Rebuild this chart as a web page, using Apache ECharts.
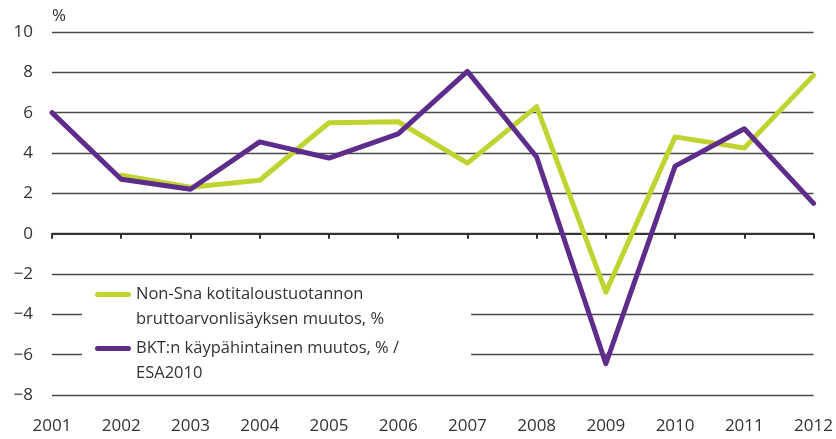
<!DOCTYPE html>
<html>
<head>
<meta charset="utf-8">
<script src="https://cdn.jsdelivr.net/npm/echarts@6/dist/echarts.min.js"></script>
<style>
  html, body { margin: 0; padding: 0; background: #fff; }
  #chart { width: 836px; height: 439px; }
</style>
</head>
<body>
<div id="chart"></div>
<script>
// vuodet
var years = ['2001', '2002', '2003', '2004', '2005', '2006', '2007', '2008', '2009', '2010', '2011', '2012'];
// Non-Sna kotitaloustuotannon bruttoarvonlisäyksen muutos, %
var nonSna = [null, 2.9, 2.3, 2.65, 5.5, 5.55, 3.5, 6.3, -2.9, 4.8, 4.25, 7.85];
// BKT:n käypähintainen muutos, %
var bkt = [6.0, 2.7, 2.2, 4.55, 3.75, 4.95, 8.05, 3.8, -6.45, 3.35, 5.2, 1.5];

var nameNonSna = 'Non-Sna kotitaloustuotannon\nbruttoarvonlisäyksen muutos, %';
var nameBkt = 'BKT:n käypähintainen muutos, % /\nESA2010';

var font = '"Open Sans", "Noto Sans", sans-serif';
var green = '#bfd431';
var purple = '#5e2d8b';

// legend icon: rounded bar near the top so it lines up with the first text row
var icon = 'path://M2.5,10 L33.5,10 A2.5,2.5 0 0 1 33.5,15 L2.5,15 A2.5,2.5 0 0 1 2.5,10 Z M0,0 L0,0 Z M36,50 L36,50 Z';

var chart = echarts.init(document.getElementById('chart'));
chart.setOption({
  animation: false,
  grid: { left: 52, right: 16, top: 32, bottom: 44 },
  legend: {
    orient: 'vertical',
    left: 82,
    top: 276,
    padding: [6, 72, 5, 13],
    itemGap: 4,
    itemWidth: 36,
    itemHeight: 50,
    symbolKeepAspect: false,
    backgroundColor: '#fff',
    icon: icon,
    textStyle: { fontFamily: font, fontSize: 16.5, lineHeight: 25, color: '#333' },
    data: [nameNonSna, nameBkt]
  },
  xAxis: [{
    // nollaviiva ja tikit
    type: 'category',
    data: years,
    boundaryGap: false,
    position: 'top',
    axisLine: { onZero: true, lineStyle: { color: '#333', width: 2 } },
    axisTick: { inside: true, length: 5, lineStyle: { color: '#333', width: 2 } },
    axisLabel: { show: false },
    splitLine: { show: false }
  }, {
    // vuosiotsikot alareunassa
    type: 'category',
    data: years,
    boundaryGap: false,
    position: 'bottom',
    axisLine: { show: false, onZero: false },
    axisTick: { show: false },
    axisLabel: { margin: 23, fontFamily: font, fontSize: 17, color: '#333' },
    splitLine: { show: false }
  }],
  yAxis: {
    type: 'value',
    min: -8,
    max: 10,
    interval: 2,
    name: '%',
    nameLocation: 'end',
    nameGap: 7,
    nameTextStyle: { align: 'left', fontFamily: font, fontSize: 17, color: '#333' },
    axisLine: { show: false },
    axisTick: { show: false },
    axisLabel: {
      margin: 19,
      fontFamily: font,
      fontSize: 17,
      color: '#333',
      formatter: function (v) { return v < 0 ? '\u2212' + Math.abs(v) : String(v); }
    },
    splitLine: { lineStyle: { color: '#4a4a4a', width: 1.3 } }
  },
  series: [{
    name: nameNonSna,
    type: 'line',
    data: nonSna,
    symbol: 'none',
    color: green,
    lineStyle: { width: 5, color: green, cap: 'round', join: 'round' }
  }, {
    name: nameBkt,
    type: 'line',
    data: bkt,
    symbol: 'none',
    color: purple,
    lineStyle: { width: 5, color: purple, cap: 'round', join: 'round' }
  }]
});
</script>
</body>
</html>
